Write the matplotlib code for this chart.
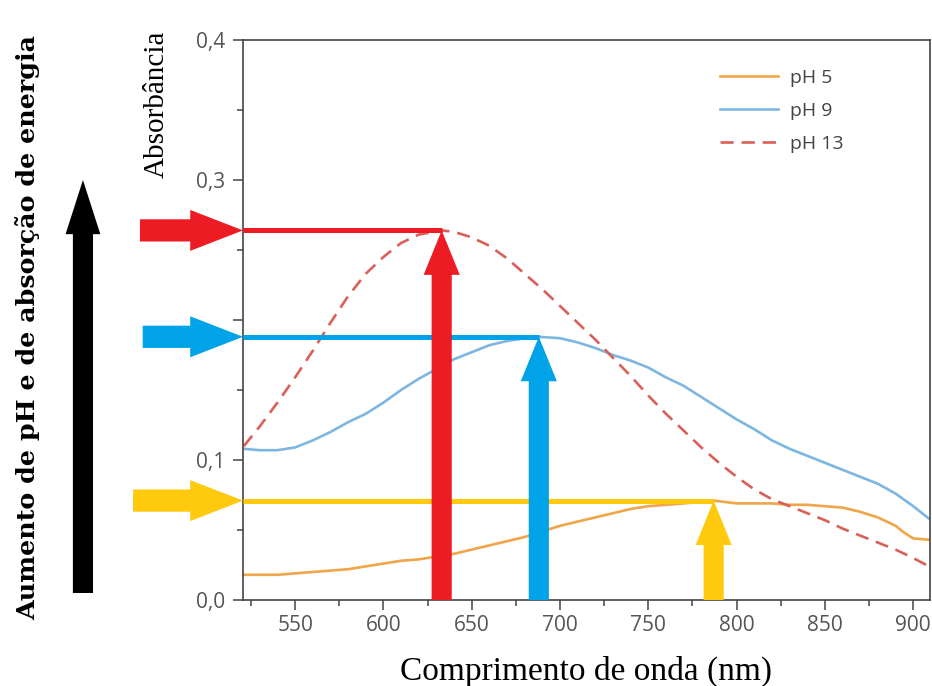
import numpy as np
import matplotlib
matplotlib.use('Agg')
import matplotlib.pyplot as plt
from matplotlib.ticker import MultipleLocator

### Dados (absorbância x comprimento de onda)
wl_ph13 = [521, 530, 540, 550, 560, 570, 580, 590, 600, 610, 620, 633, 640, 650, 660, 670, 680,
           690, 700, 710, 720, 730, 740, 750, 760, 770, 780, 790, 800, 810, 820, 830, 840, 850,
           860, 870, 880, 890, 900, 909]
abs_ph13 = [0.110, 0.124, 0.141, 0.159, 0.178, 0.198, 0.217, 0.233, 0.245, 0.255, 0.261, 0.264,
            0.263, 0.259, 0.253, 0.244, 0.233, 0.222, 0.210, 0.198, 0.186, 0.173, 0.160, 0.146,
            0.133, 0.121, 0.109, 0.098, 0.088, 0.079, 0.072, 0.067, 0.062, 0.057, 0.051, 0.046,
            0.041, 0.036, 0.030, 0.024]

wl_ph9 = [521, 530, 540, 550, 560, 570, 580, 590, 600, 610, 620, 630, 640, 650, 660, 670, 680,
          688, 700, 710, 720, 730, 740, 750, 760, 770, 780, 790, 800, 810, 820, 830, 840, 850,
          860, 870, 880, 890, 900, 909]
abs_ph9 = [0.108, 0.107, 0.107, 0.109, 0.114, 0.120, 0.127, 0.133, 0.141, 0.150, 0.158, 0.165,
           0.172, 0.177, 0.182, 0.185, 0.187, 0.188, 0.187, 0.184, 0.180, 0.175, 0.171, 0.166,
           0.159, 0.153, 0.145, 0.137, 0.129, 0.122, 0.114, 0.108, 0.103, 0.098, 0.093, 0.088,
           0.083, 0.076, 0.067, 0.058]

wl_ph5 = [521, 530, 540, 550, 560, 570, 580, 590, 600, 610, 620, 630, 640, 650, 660, 670, 680,
          690, 700, 710, 720, 730, 740, 750, 760, 770, 787, 800, 810, 820, 830, 840, 850, 860,
          870, 880, 890, 895, 900, 909]
abs_ph5 = [0.018, 0.018, 0.018, 0.019, 0.020, 0.021, 0.022, 0.024, 0.026, 0.028, 0.029, 0.031,
           0.033, 0.036, 0.039, 0.042, 0.045, 0.049, 0.053, 0.056, 0.059, 0.062, 0.065, 0.067,
           0.068, 0.069, 0.071, 0.069, 0.069, 0.069, 0.068, 0.068, 0.067, 0.066, 0.063, 0.059,
           0.053, 0.048, 0.044, 0.043]

labels = ['pH 5', 'pH 9', 'pH 13']
line_colors = ['#EFA548', '#7DB6E0', '#D9605A']
arrow_colors = ['#FFC90E', '#00A2E8', '#ED1C24']

x_ticks = [550, 600, 650, 700, 750, 800, 850, 900]
y_ticks = [0.0, 0.1, 0.2, 0.3, 0.4]
# o rótulo 0,2 fica escondido sob a seta azul no original
y_ticklabels = ['0,0', '0,1', '', '0,3', '0,4']
xlim = (520.5, 909.5)

fig = plt.figure(figsize=(9.32, 6.86), dpi=100)
ax = fig.add_axes([243 / 932, 1 - 600 / 686, 687 / 932, 560 / 686])

series = [(wl_ph5, abs_ph5), (wl_ph9, abs_ph9), (wl_ph13, abs_ph13)]
styles = ['-', '-', (0, (5, 3))]
for (wl, ab), lab, c, ls in zip(series, labels, line_colors, styles):
    ax.plot(wl, ab, color=c, lw=1.9, ls=ls, label=lab, zorder=2)

ax.set_xlim(*xlim)
ax.set_ylim(0, 0.4)
ax.set_xticks(x_ticks)
ax.set_yticks(y_ticks, y_ticklabels)
ax.xaxis.set_minor_locator(MultipleLocator(25))
ax.yaxis.set_minor_locator(MultipleLocator(0.05))
ax.tick_params(which='both', direction='out', color='#444444', width=1.1,
               labelsize=15, labelcolor='#555555')
ax.tick_params(which='major', length=7)
ax.tick_params(which='minor', length=4.5)
ax.tick_params(axis='y', pad=6)
ax.tick_params(axis='x', pad=4)
for lbl in ax.get_xticklabels() + ax.get_yticklabels():
    lbl.set_family('Open Sans')
for sp in ax.spines.values():
    sp.set_color('#444444')
    sp.set_linewidth(1.2)

ax.set_xlabel('Comprimento de onda (nm)', family='Liberation Serif', fontsize=24, labelpad=14)
ax.set_ylabel('Absorbância', family='Liberation Serif', fontsize=21, ha='center', va='center')
ax.yaxis.set_label_coords(-0.125, 0.886)

leg = ax.legend(loc='upper left', bbox_to_anchor=(0.694, 0.948), frameon=False,
                prop={'family': 'Open Sans', 'size': 14}, handlelength=3.0,
                handletextpad=0.6, labelspacing=0.76, borderpad=0, borderaxespad=0)
for t in leg.get_texts():
    t.set_color('#444444')


def fat_arrow(tip, tip_coords, tail, tail_coords, color, tail_w, head_w, head_l):
    ax.annotate('', xy=tip, xycoords=tip_coords, xytext=tail, textcoords=tail_coords,
                annotation_clip=False,
                arrowprops=dict(arrowstyle=f'simple,head_length={head_l},head_width={head_w},'
                                           f'tail_width={tail_w}',
                                color=color, lw=0, shrinkA=0, shrinkB=0,
                                mutation_scale=1), zorder=5)


### Setas de cada pico
tail_x = [-0.160, -0.146, -0.150]
xspan = xlim[1] - xlim[0]
for (wl, ab), c, tx in zip(series, arrow_colors, tail_x):
    i = int(np.argmax(ab))
    px, py = wl[i], ab[i]
    ax.axhline(py, xmin=0, xmax=(px - xlim[0]) / xspan, color=c, lw=3.6, zorder=4,
               solid_capstyle='butt')
    fat_arrow((0, py), ('axes fraction', 'data'), (tx, py), ('axes fraction', 'data'),
              c, 16, 29.5, 38)
    fat_arrow((px, py), 'data', (px, 0), 'data', c, 14.5, 26, 32)

### Seta preta e texto lateral
ax.annotate('', xy=(0.089, 1 - 180 / 686), xycoords='figure fraction',
            xytext=(0.089, 1 - 593 / 686), textcoords='figure fraction',
            arrowprops=dict(arrowstyle='simple,head_length=39,head_width=25,tail_width=14.5',
                            color='black', lw=0, shrinkA=0, shrinkB=0, mutation_scale=1))
fig.text(0.030, 0.523, 'Aumento de pH e de absorção de energia', rotation=90,
         family='DejaVu Serif', weight='bold', fontsize=18.3, ha='center', va='center')

fig.savefig('out.png', dpi=100)
